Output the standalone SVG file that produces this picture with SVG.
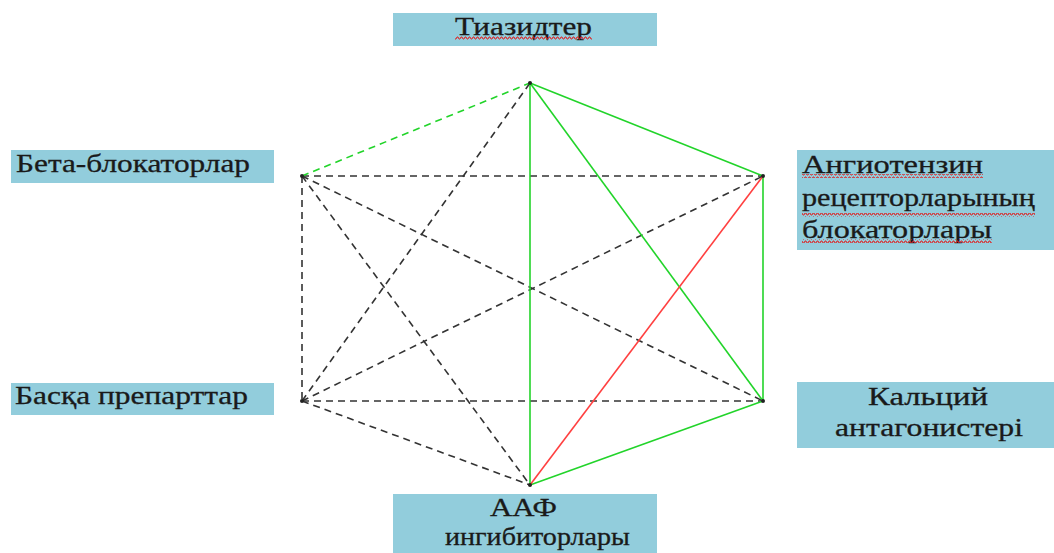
<svg xmlns="http://www.w3.org/2000/svg" width="1054" height="553" viewBox="0 0 1054 553">
<style>
.box{fill:#92CDDC}
.t{font-family:"Liberation Serif","Times New Roman",serif;font-size:25px;fill:#1a1a1a;stroke:#1a1a1a;stroke-width:0.3}
.g{stroke:#22D42A;stroke-width:1.6;fill:none}
.gd{stroke:#22D42A;stroke-width:1.6;fill:none;stroke-dasharray:7 5}
.r{stroke:#FF4040;stroke-width:1.6;fill:none}
.k{stroke:#333;stroke-width:1.6;fill:none;stroke-dasharray:7 5}
</style>
<defs>
<pattern id="wave" width="4" height="4" patternUnits="userSpaceOnUse">
<path d="M0 3 L1 1 L2 1 L3 3 L4 3" stroke="#E02020" stroke-width="1" fill="none"/>
</pattern>
</defs>
<rect width="1054" height="553" fill="#fff"/>
<g id="connectors">
<line class="k" x1="302" y1="176" x2="763" y2="176"/>
<line class="k" x1="302" y1="176" x2="763" y2="401"/>
<line class="k" x1="302" y1="176" x2="302" y2="401"/>
<line class="k" x1="302" y1="176" x2="530" y2="485"/>
<line class="k" x1="302" y1="401" x2="530" y2="83"/>
<line class="k" x1="302" y1="401" x2="763" y2="176"/>
<line class="k" x1="302" y1="401" x2="763" y2="401"/>
<line class="k" x1="302" y1="401" x2="530" y2="485"/>
<line class="gd" x1="302" y1="176" x2="530" y2="83"/>
<line class="g" x1="530" y1="83" x2="763" y2="176"/>
<line class="g" x1="763" y1="176" x2="763" y2="401"/>
<line class="g" x1="763" y1="401" x2="530" y2="485"/>
<line class="g" x1="530" y1="83" x2="530" y2="485"/>
<line class="g" x1="530" y1="83" x2="763" y2="401"/>
<line class="r" x1="763" y1="176" x2="530" y2="485"/>
<g fill="#222">
<circle cx="530" cy="83" r="2"/><circle cx="302" cy="176" r="2"/><circle cx="763" cy="176" r="2"/>
<circle cx="302" cy="401" r="2"/><circle cx="763" cy="401" r="2"/><circle cx="530" cy="485" r="2"/>
</g>
</g>
<g id="node-thiazide">
<rect class="box" x="393" y="13" width="264" height="33"/>
<text class="t" x="455" y="35" textLength="137" lengthAdjust="spacingAndGlyphs">Тиазидтер</text>
<rect x="455" y="36" width="137" height="4" fill="url(#wave)"/>
</g>
<g id="node-beta">
<rect class="box" x="11" y="150" width="263" height="33"/>
<text class="t" x="16" y="172" textLength="234" lengthAdjust="spacingAndGlyphs">Бета-блокаторлар</text>
</g>
<g id="node-arb">
<rect class="box" x="797" y="150" width="257" height="100"/>
<text class="t" x="802" y="173" textLength="181" lengthAdjust="spacingAndGlyphs">Ангиотензин</text>
<text class="t" x="802" y="206" textLength="233" lengthAdjust="spacingAndGlyphs">рецепторларының</text>
<text class="t" x="802" y="238" textLength="190" lengthAdjust="spacingAndGlyphs">блокаторлары</text>
<rect x="802" y="174" width="181" height="4" fill="url(#wave)"/>
<rect x="802" y="213" width="233" height="4" fill="url(#wave)"/>
<rect x="802" y="239" width="190" height="4" fill="url(#wave)"/>
</g>
<g id="node-other">
<rect class="box" x="11" y="383" width="263" height="32"/>
<text class="t" x="15" y="404" textLength="233" lengthAdjust="spacingAndGlyphs">Басқа препарттар</text>
</g>
<g id="node-calcium">
<rect class="box" x="797" y="382" width="257" height="66"/>
<text class="t" x="868" y="405" textLength="120" lengthAdjust="spacingAndGlyphs">Кальций</text>
<text class="t" x="835" y="436" textLength="188" lengthAdjust="spacingAndGlyphs">антагонистері</text>
</g>
<g id="node-ace">
<rect class="box" x="393" y="494" width="264" height="59"/>
<text class="t" x="490" y="516" textLength="67" lengthAdjust="spacingAndGlyphs">ААФ</text>
<text class="t" x="445" y="545" textLength="185" lengthAdjust="spacingAndGlyphs">ингибиторлары</text>
</g>
</svg>
